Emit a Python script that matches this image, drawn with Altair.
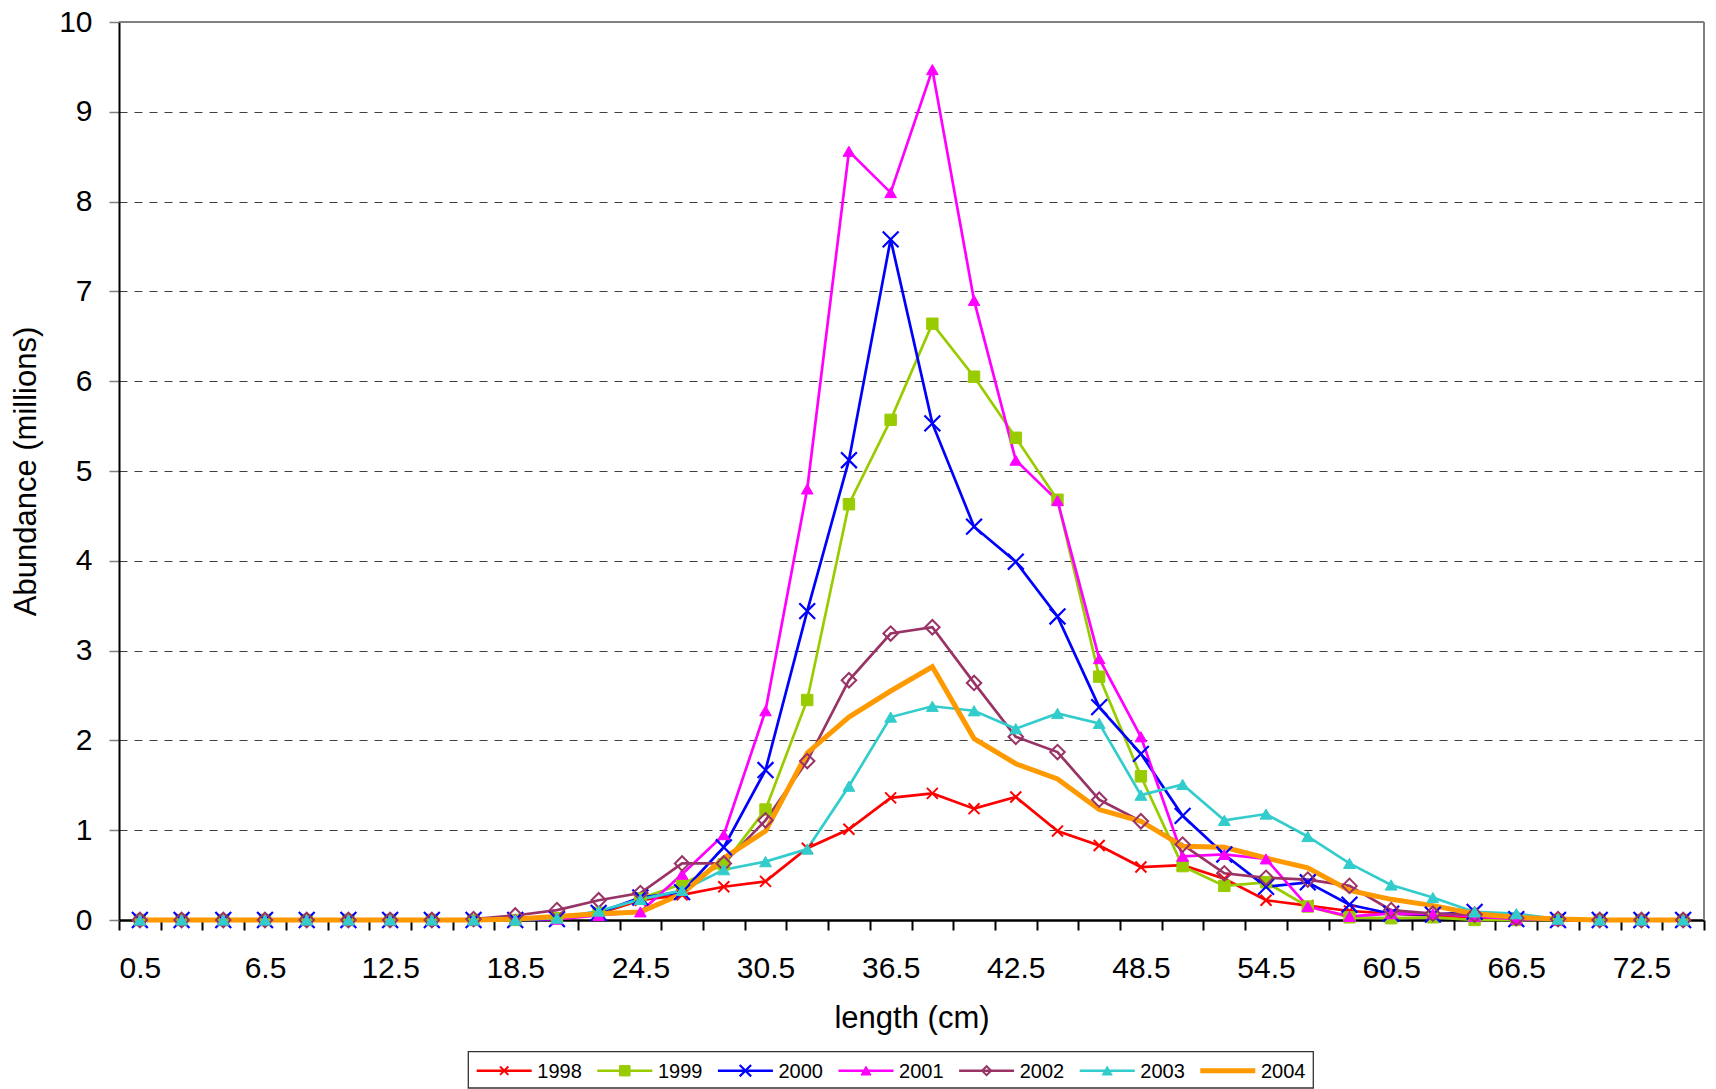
import altair as alt
import pandas as pd

# ---------------- data ----------------
lengths = [0.5, 2.5, 4.5, 6.5, 8.5, 10.5, 12.5, 14.5, 16.5, 18.5,
           20.5, 22.5, 24.5, 26.5, 28.5, 30.5, 32.5, 34.5, 36.5, 38.5,
           40.5, 42.5, 44.5, 46.5, 48.5, 50.5, 52.5, 54.5, 56.5, 58.5,
           60.5, 62.5, 64.5, 66.5, 68.5, 70.5, 72.5, 74.5]

years = ["1998", "1999", "2000", "2001", "2002", "2003", "2004"]

v1998 = [0, 0, 0, 0, 0, 0, 0, 0, 0, 0.01,
         0.01, 0.07, 0.22, 0.28, 0.37, 0.43, 0.80, 1.01, 1.36, 1.41,
         1.24, 1.37, 0.99, 0.83, 0.59, 0.61, 0.46, 0.22, 0.16, 0.10,
         0.07, 0.05, 0.03, 0.01, 0, 0, 0, 0]
v1999 = [0, 0, 0, 0, 0, 0, 0, 0, 0, 0,
         0.02, 0.08, 0.24, 0.40, 0.62, 1.23, 2.45, 4.63, 5.57, 6.64,
         6.05, 5.37, 4.68, 2.71, 1.60, 0.60, 0.38, 0.42, 0.15, 0.03,
         0.02, 0.03, 0.0, 0, 0, 0, 0, 0]
v2000 = [0, 0, 0, 0, 0, 0, 0, 0, 0, 0,
         0.01, 0.08, 0.25, 0.31, 0.81, 1.67, 3.44, 5.12, 7.58, 5.53,
         4.38, 3.99, 3.38, 2.37, 1.85, 1.16, 0.73, 0.37, 0.42, 0.17,
         0.07, 0.06, 0.09, 0.01, 0, 0, 0, 0]
v2001 = [0, 0, 0, 0, 0, 0, 0, 0, 0, 0.01,
         0.01, 0.05, 0.09, 0.51, 0.95, 2.33, 4.80, 8.56, 8.10, 9.47,
         6.90, 5.12, 4.67, 2.91, 2.04, 0.71, 0.73, 0.68, 0.15, 0.04,
         0.07, 0.07, 0.04, 0.01, 0, 0, 0, 0]
v2002 = [0, 0, 0, 0, 0, 0, 0, 0, 0.01, 0.05,
         0.11, 0.22, 0.30, 0.63, 0.63, 1.11, 1.77, 2.67, 3.19, 3.26,
         2.64, 2.04, 1.87, 1.34, 1.10, 0.84, 0.52, 0.47, 0.45, 0.38,
         0.11, 0.07, 0.06, 0.02, 0.01, 0, 0, 0]
v2003 = [0, 0, 0, 0, 0, 0, 0, 0, 0, 0,
         0.02, 0.10, 0.23, 0.33, 0.56, 0.65, 0.79, 1.49, 2.26, 2.38,
         2.33, 2.13, 2.30, 2.19, 1.39, 1.51, 1.11, 1.18, 0.93, 0.63,
         0.39, 0.25, 0.09, 0.07, 0.01, 0, 0, 0]
v2004 = [0, 0, 0, 0, 0, 0, 0, 0, 0, 0.01,
         0.04, 0.07, 0.09, 0.29, 0.69, 0.99, 1.86, 2.26, 2.55, 2.82,
         2.02, 1.74, 1.57, 1.23, 1.10, 0.82, 0.81, 0.69, 0.58, 0.33,
         0.23, 0.16, 0.07, 0.03, 0.01, 0, 0, 0]

series = [v1998, v1999, v2000, v2001, v2002, v2003, v2004]
colors = ["#FF0000", "#99CC00", "#0000FF", "#FF00FF", "#993366", "#33CCCC", "#FF9900"]

rows = []
for yr, vals in zip(years, series):
    for L, v in zip(lengths, vals):
        rows.append({"length": L, "year": yr, "value": v})
df = pd.DataFrame(rows)
legend_df = pd.DataFrame({"year": years, "idx": list(range(len(years)))})

# ---------------- styling ----------------
FONT = "Liberation Sans"
W, H = 1585, 898
X_PATH = "M-1,-1L1,1M-1,1L1,-1"
markers = {
    "1998": dict(shape=X_PATH, filled=False, strokeWidth=2, size=120, lsize=70),
    "1999": dict(shape="square", filled=True, strokeWidth=1, size=130, lsize=110),
    "2000": dict(shape=X_PATH, filled=False, strokeWidth=2.2, size=250, lsize=130),
    "2001": dict(shape="triangle-up", filled=True, strokeWidth=1, size=135, lsize=100),
    "2002": dict(shape="diamond", filled=False, strokeWidth=2, size=210, lsize=80),
    "2003": dict(shape="triangle-up", filled=True, strokeWidth=1, size=140, lsize=100),
}
color_scale = alt.Scale(domain=years, range=colors)

x_enc = alt.X(
    "length:O", bandPosition=0.5,
    scale=alt.Scale(type="band", paddingInner=0, paddingOuter=0),
    axis=alt.Axis(
        title="length (cm)", grid=False, labelAngle=0,
        labelExpr="(datum.value - 0.5) % 6 == 0 ? datum.label : ''",
        tickBand="extent", domainColor="black", domainWidth=2.5,
        tickColor="black", tickWidth=2, tickSize=10,
        labelFont=FONT, labelFontSize=30, labelColor="black",
        labelBaseline="alphabetic", labelPadding=47,
        titleFont=FONT, titleFontSize=31, titleFontWeight="normal",
        titleColor="black", titleX=W / 2, titleY=107,
        titleBaseline="alphabetic", titleAlign="center",
    ),
)
y_enc = alt.Y(
    "value:Q",
    scale=alt.Scale(domain=[0, 10], nice=False),
    axis=alt.Axis(
        title="Abundance (millions)", values=list(range(11)),
        grid=True, gridDash=[8, 7], gridColor="#404040", gridWidth=1,
        gridOpacity={"condition": {"test": "datum.value >= 10 || datum.value <= 0", "value": 0}, "value": 1},
        domainColor="black", domainWidth=2,
        tickColor="#808080", tickWidth=1.5, tickSize=10,
        labelFont=FONT, labelFontSize=30, labelColor="black", labelPadding=17,
        titleFont=FONT, titleFontSize=31, titleFontWeight="normal",
        titleColor="black", titleX=-84, titleY=H / 2, titleAngle=270,
        titleBaseline="alphabetic", titleAlign="center",
    ),
)

base = alt.Chart(df)

# frame (top and right edges, grey)
frame_df = pd.DataFrame({"edge": ["frame"]})
top_edge = alt.Chart(frame_df).mark_rule(color="#808080", strokeWidth=2).encode(
    x=alt.value(0), x2=alt.value(W), y=alt.value(0))
right_edge = alt.Chart(frame_df).mark_rule(color="#808080", strokeWidth=2).encode(
    x=alt.value(W), y=alt.value(0), y2=alt.value(H))

lines_thin = base.transform_filter("datum.year != '2004'").mark_line(strokeWidth=2.7).encode(
    x=x_enc, y=y_enc, color=alt.Color("year:N", scale=color_scale, legend=None))
lines_thick = base.transform_filter("datum.year == '2004'").mark_line(strokeWidth=5).encode(
    x=x_enc, y=y_enc, color=alt.Color("year:N", scale=color_scale, legend=None))

point_layers = []
for yr, c in zip(years, colors):
    if yr not in markers:
        continue
    m = markers[yr]
    point_layers.append(
        base.transform_filter(f"datum.year == '{yr}'").mark_point(
            shape=m["shape"], filled=m["filled"], color=c, stroke=c,
            strokeWidth=m["strokeWidth"], size=m["size"], opacity=1,
        ).encode(x=x_enc, y=y_enc)
    )

# ---------------- legend ----------------
LX0, LSTEP, LLEN, LTXT, LY = 357.7, 120.6, 55, 60.6, 1048.7
leg = alt.Chart(legend_df).transform_calculate(
    lx0=f"{LX0} + {LSTEP} * datum.idx",
    lx1=f"{LX0} + {LLEN} + {LSTEP} * datum.idx",
    lxm=f"{LX0} + {LLEN / 2} + {LSTEP} * datum.idx",
    ltx=f"{LX0} + {LTXT} + {LSTEP} * datum.idx",
)
legend_box = alt.Chart(pd.DataFrame({"box": ["legend"]})).mark_rect(
    fill="white", stroke="#333333", strokeWidth=1.3
).encode(x=alt.value(349.3), x2=alt.value(1194.3), y=alt.value(1029.7), y2=alt.value(1066.0))

leg_lines_thin = leg.transform_filter("datum.year != '2004'").mark_rule(strokeWidth=2.5).encode(
    x=alt.X("lx0:Q", scale=None), x2="lx1:Q", y=alt.value(LY),
    color=alt.Color("year:N", scale=color_scale, legend=None))
leg_lines_thick = leg.transform_filter("datum.year == '2004'").mark_rule(strokeWidth=5).encode(
    x=alt.X("lx0:Q", scale=None), x2="lx1:Q", y=alt.value(LY),
    color=alt.Color("year:N", scale=color_scale, legend=None))

leg_points = []
for yr, c in zip(years, colors):
    if yr not in markers:
        continue
    m = markers[yr]
    leg_points.append(
        leg.transform_filter(f"datum.year == '{yr}'").mark_point(
            shape=m["shape"], filled=m["filled"], color=c, stroke=c,
            strokeWidth=m["strokeWidth"], size=m["lsize"], opacity=1,
        ).encode(x=alt.X("lxm:Q", scale=None), y=alt.value(LY))
    )

leg_text = leg.mark_text(align="left", baseline="middle", fontSize=20, font=FONT, color="black").encode(
    x=alt.X("ltx:Q", scale=None), y=alt.value(LY + 1.7), text="year:N")

chart = alt.layer(
    top_edge, right_edge, lines_thin, lines_thick, *point_layers,
    legend_box, leg_lines_thin, leg_lines_thick, *leg_points, leg_text,
).properties(
    width=W, height=H,
    autosize=alt.AutoSizeParams(type="none"),
    padding={"left": 111, "top": 14, "right": 4, "bottom": 169},
).configure(font=FONT).configure_view(stroke=None)

chart.save("out.html", embed_options={"renderer": "svg", "actions": False})
